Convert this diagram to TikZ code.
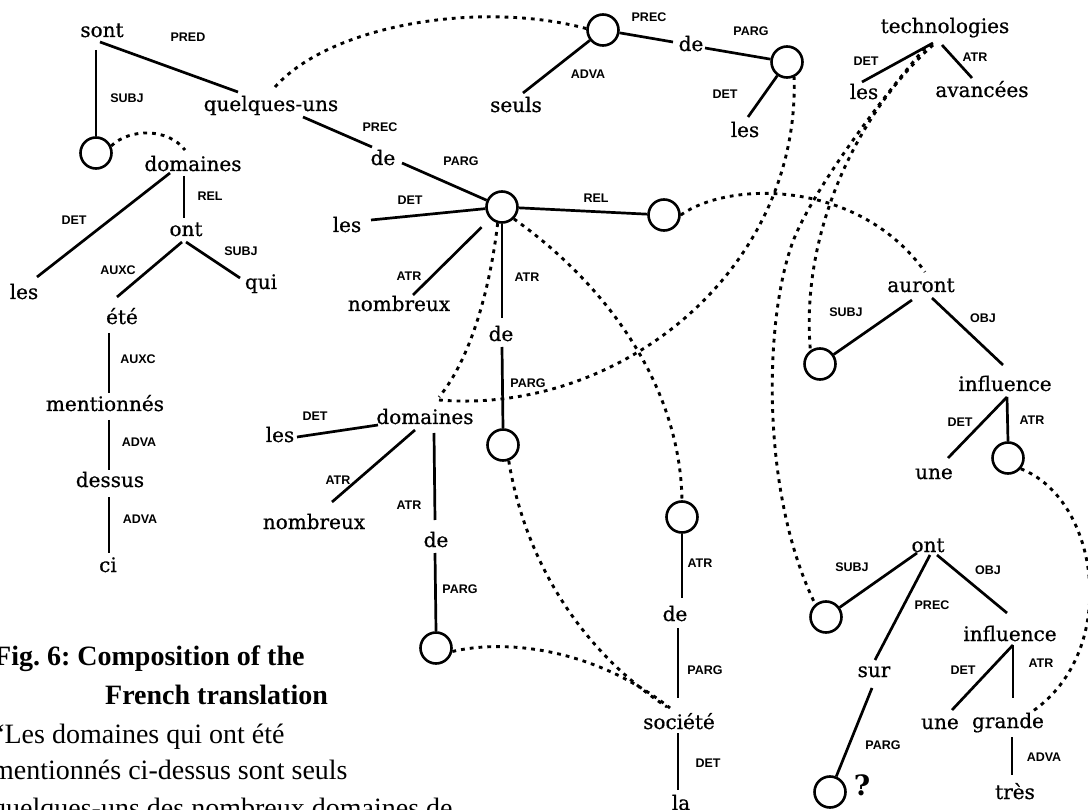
\documentclass[tikz,border=0pt]{standalone}
\usepackage{fontspec}
\setmainfont{DejaVu Serif}
\newfontfamily\wordfont{DejaVu Serif}[FakeBold=0.7]
\newfontfamily\relfont{Liberation Sans}
\newfontfamily\capfont{Liberation Serif}

\begin{document}
\begin{tikzpicture}[x=1pt,y=-1pt,
  word/.style={font=\wordfont\fontsize{20}{24}\selectfont, inner sep=1pt, anchor=base},
  lab/.style={font=\relfont\bfseries\fontsize{12.5}{14}\selectfont, inner sep=0pt},
  hole/.style={circle, draw, line width=2.6pt, minimum size=31pt, inner sep=0pt},
  tie/.style={line width=2.7pt},
  slot/.style={line width=2.9pt, dash pattern=on 3.8pt off 5pt},
  capline/.style={font=\capfont\frenchspacing\fontsize{28}{32}\selectfont, inner sep=0pt, anchor=base west}]
\useasboundingbox (0,0) rectangle (1088,810);

% ---- words ----
\node[word] (sont) at (102,37) {sont};
\node[word] (qu) at (271,111) {quelques-uns};
\node[word] (dom1) at (193,171) {domaines};
\node[word] (les1) at (24,299) {les};
\node[word] (ont1) at (186,236) {ont};
\node[word] (qui) at (261,289) {qui};
\node[word] (ete) at (122,324) {été};
\node[word] (ment) at (105,411) {mentionnés};
\node[word] (dessus) at (110,487) {dessus};
\node[word] (ci) at (108,572) {ci};
\node[word] (de1) at (383,165) {de};
\node[word] (les2) at (347,232) {les};
\node[word] (nomb1) at (399,311) {nombreux};
\node[word] (de2) at (501,341) {de};
\node[word] (dom2) at (425,424) {domaines};
\node[word] (les3) at (280,442) {les};
\node[word] (nomb2) at (314,529) {nombreux};
\node[word] (de3) at (436,547) {de};
\node[word] (seuls) at (516,112) {seuls};
\node[word] (de4) at (691,51) {de};
\node[word] (les4) at (745,137) {les};
\node[word] (tech) at (945,33) {technologies};
\node[word] (les5) at (864,99) {les};
\node[word] (avanc) at (982,97) {avancées};
\node[word] (auront) at (921,292) {auront};
\node[word] (infl1) at (1005,391) {influence};
\node[word] (une1) at (934,479) {une};
\node[word] (ont2) at (928,552) {ont};
\node[word] (sur) at (874,677) {sur};
\node[word] (infl2) at (1010,641) {influence};
\node[word] (une2) at (940,729) {une};
\node[word] (grande) at (1008,728) {grande};
\node[word] (tres) at (1015,799) {très};
\node[word] (de5) at (675,621) {de};
\node[word] (soc) at (679,729) {société};
\node[word] (la) at (681,810) {la};
\node[font=\bfseries\fontsize{28}{30}\selectfont, inner sep=0pt] (qmark) at (862,785) {?};

% ---- empty slots ----
\node[hole] (c1) at (96,153) {};
\node[hole] (c2) at (502,207) {};
\node[hole] (c3) at (664,215) {};
\node[hole] (c4) at (503,445) {};
\node[hole] (c5) at (436,648) {};
\node[hole] (c6) at (682,517) {};
\node[hole] (c7) at (603,30) {};
\node[hole] (c8) at (787,62) {};
\node[hole] (c9) at (820,364) {};
\node[hole] (c10) at (1008,458) {};
\node[hole] (c11) at (826,617) {};
\node[hole] (c12) at (830,792) {};

% ---- dependency edges ----
\draw[tie] ([shift={(-2,5)}]sont.base) -- ([shift={(-33,-19)}]qu.base);
\draw[tie] ([shift={(-6,13)}]sont.base) -- (c1.north);
\draw[tie] ([shift={(-23,2)}]dom1.base) -- ([shift={(13,-22)}]les1.base);
\draw[tie] ([shift={(-9,5)}]dom1.base) -- ([shift={(-2,-18)}]ont1.base);
\draw[tie] ([shift={(-4,6)}]ont1.base) -- ([shift={(-5,-27)}]ete.base);
\draw[tie] ([shift={(0,6)}]ont1.base) -- ([shift={(-21,-11)}]qui.base);
\draw[tie] ([shift={(-13,9)}]ete.base) -- ([shift={(4,-18)}]ment.base);
\draw[tie] ([shift={(4,9)}]ment.base) -- ([shift={(-1,-17)}]dessus.base);
\draw[tie] ([shift={(-1,10)}]dessus.base) -- ([shift={(1,-19)}]ci.base);

\draw[tie] ([shift={(32,6)}]qu.base) -- ([shift={(-11,-18)}]de1.base);
\draw[tie] ([shift={(19,-2)}]de1.base) -- (c2);
\draw[tie] ([shift={(24,-12)}]les2.base) -- (c2);
\draw[tie] (c2) -- (c3);
\draw[tie, shorten <=12pt] (c2) -- ([shift={(14,-16)}]nomb1.base);
\draw[tie] (c2.south) -- ([shift={(1,-23)}]de2.base);
\draw[tie] ([shift={(1,6)}]de2.base) -- (c4.north);

\draw[tie] ([shift={(17,-5)}]les3.base) -- ([shift={(-47,1)}]dom2.base);
\draw[tie] ([shift={(-10,6)}]dom2.base) -- ([shift={(18,-27)}]nomb2.base);
\draw[tie] ([shift={(9,9)}]dom2.base) -- ([shift={(-1,-27)}]de3.base);
\draw[tie] ([shift={(-1,6)}]de3.base) -- (c5.north);

\draw[tie] (c6.south) -- ([shift={(7,-23)}]de5.base);
\draw[tie] ([shift={(3,7)}]de5.base) -- ([shift={(-1,-31)}]soc.base);
\draw[tie] ([shift={(-1,4)}]soc.base) -- ([shift={(-3,-20)}]la.base);

\draw[tie] (c7) -- ([shift={(-18,-9)}]de4.base);
\draw[tie] (c7) -- ([shift={(7,-19)}]seuls.base);
\draw[tie] ([shift={(14,-3)}]de4.base) -- (c8);
\draw[tie] (c8) -- ([shift={(3,-20)}]les4.base);

\draw[tie] ([shift={(-12,10)}]tech.base) -- ([shift={(-2,-17)}]les5.base);
\draw[tie] ([shift={(-3,12)}]tech.base) -- ([shift={(-10,-19)}]avanc.base);

\draw[tie] ([shift={(-9,8)}]auront.base) -- (c9);
\draw[tie] ([shift={(11,6)}]auront.base) -- ([shift={(-2,-26)}]infl1.base);
\draw[tie] ([shift={(2,6)}]infl1.base) -- ([shift={(14,-21)}]une1.base);
\draw[tie] ([shift={(2,6)}]infl1.base) -- (c10.north);

\draw[tie] ([shift={(-11,1)}]ont2.base) -- (c11);
\draw[tie] ([shift={(2,3)}]ont2.base) -- ([shift={(1,-17)}]sur.base);
\draw[tie] ([shift={(9,3)}]ont2.base) -- ([shift={(-3,-28)}]infl2.base);
\draw[tie] ([shift={(-2,11)}]sur.base) -- (c12);
\draw[tie] ([shift={(3,4)}]infl2.base) -- ([shift={(12,-19)}]une2.base);
\draw[tie] ([shift={(3,4)}]infl2.base) -- ([shift={(5,-30)}]grande.base);
\draw[tie] ([shift={(4,9)}]grande.base) -- ([shift={(-3,-24)}]tres.base);

% ---- relation labels ----
\node[lab] (l1) at (188,37) {PRED};
\node[lab] (l2) at (127,98) {SUBJ};
\node[lab] (l3) at (210,196) {REL};
\node[lab] (l4) at (74,220) {DET};
\node[lab] (l5) at (241,251) {SUBJ};
\node[lab] (l6) at (118,270) {AUXC};
\node[lab] (l7) at (138,359) {AUXC};
\node[lab] (l8) at (139,442) {ADVA};
\node[lab] (l9) at (140,519) {ADVA};
\node[lab] (l10) at (380,127) {PREC};
\node[lab] (l11) at (461,161) {PARG};
\node[lab] (l12) at (410,200) {DET};
\node[lab] (l13) at (596,198) {REL};
\node[lab] (l14) at (409,276) {ATR};
\node[lab] (l15) at (527,277) {ATR};
\node[lab] (l16) at (528,383) {PARG};
\node[lab] (l17) at (315,416) {DET};
\node[lab] (l18) at (338,480) {ATR};
\node[lab] (l19) at (409,505) {ATR};
\node[lab] (l20) at (460,589) {PARG};
\node[lab] (l21) at (700,563) {ATR};
\node[lab] (l22) at (705,670) {PARG};
\node[lab] (l23) at (708,763) {DET};
\node[lab] (l24) at (649,17) {PREC};
\node[lab] (l25) at (588,74) {ADVA};
\node[lab] (l26) at (751,31) {PARG};
\node[lab] (l27) at (725,94) {DET};
\node[lab] (l28) at (866,61) {DET};
\node[lab] (l29) at (975,57) {ATR};
\node[lab] (l30) at (846,312) {SUBJ};
\node[lab] (l31) at (983,318) {OBJ};
\node[lab] (l32) at (960,422) {DET};
\node[lab] (l33) at (1032,420) {ATR};
\node[lab] (l34) at (852,567) {SUBJ};
\node[lab] (l35) at (932,605) {PREC};
\node[lab] (l36) at (988,570) {OBJ};
\node[lab] (l37) at (883,745) {PARG};
\node[lab] (l38) at (963,670) {DET};
\node[lab] (l39) at (1041,663) {ATR};
\node[lab] (l40) at (1044,757) {ADVA};

% ---- composition links (dotted) ----
\draw[slot] (c1.25) .. controls (130,128) and (168,128) .. ([shift={(-8,-21)}]dom1.base);
\draw[slot] ([shift={(4,-24)}]qu.base) .. controls (330,25) and (480,0) .. (c7.175);
\draw[slot] (c2.255) .. controls (490,290) and (470,360) .. ([shift={(14,-27)}]dom2.base);
\draw[slot] ([shift={(14,-24)}]dom2.base) .. controls (620,415) and (800,270) .. (c8.-65);
\draw[slot] (c2.-45) .. controls (600,280) and (680,380) .. (c6.north);
\draw[slot] (c3.east) .. controls (730,180) and (860,180) .. ([shift={(4,-20)}]auront.base);
\draw[slot] ([shift={(-12,12)}]tech.base) .. controls (860,110) and (800,230) .. (c9.125);
\draw[slot] ([shift={(-20,15)}]tech.base) .. controls (880,100) and (805,200) .. (790,250)
            .. controls (764,330) and (762,496) .. (c11.130);
\draw[slot] (c10.-40) .. controls (1100,500) and (1120,650) .. ([shift={(25,-17)}]grande.base);
\draw[slot] (c5.-12) .. controls (500,640) and (590,645) .. ([shift={(-9,-21)}]soc.base);
\draw[slot] (c4.-70) .. controls (525,560) and (580,650) .. ([shift={(-12,-22)}]soc.base);

% ---- caption ----
\node[capline] (cap1) at (-6,665) {\bfseries Fig. 6: Composition of the};
\node[capline] (cap2) at (105,704) {\bfseries French translation};
\node[capline] (cap3) at (-8,743) {“Les domaines qui ont été};
\node[capline] (cap4) at (-8,779) {mentionnés ci-dessus sont seuls};
\node[capline] (cap5) at (-8,817) {quelques-uns des nombreux domaines de};
\end{tikzpicture}
\end{document}
